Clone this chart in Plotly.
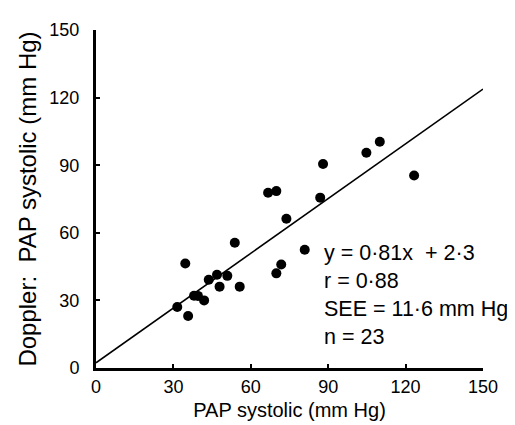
import plotly.graph_objects as go

# Catheter (x) vs Doppler (y) systolic PAP, mm Hg
pap_catheter = [66.7, 69.9, 88.0, 86.9, 104.8, 110.0, 123.3, 73.8, 53.8, 80.9,
                34.6, 71.8, 69.9, 43.7, 46.9, 50.9, 47.9, 55.7, 38.0, 39.5,
                41.9, 31.5, 35.7]
pap_doppler = [77.8, 78.5, 90.5, 75.6, 95.5, 100.4, 85.4, 66.2, 55.6, 52.5,
               46.4, 45.9, 42.0, 39.2, 41.4, 40.9, 36.1, 36.1, 32.1, 32.0,
               30.0, 27.1, 23.1]

slope = 0.81
intercept = 2.3
fit_x = [0, 150]
fit_y = [slope * v + intercept for v in fit_x]

tick_vals = [0, 30, 60, 90, 120, 150]
tick_text = ["0", "30", "60", "90", "120", "150"]

stats_lines = ["y = 0·81x  + 2·3", "r = 0·88", "SEE = 11·6 mm Hg", "n = 23"]

FONT = "Liberation Sans, Arial, sans-serif"

fig = go.Figure()
fig.add_trace(go.Scatter(x=fit_x, y=fit_y, mode="lines",
                         line=dict(color="black", width=1.6),
                         showlegend=False, hoverinfo="skip"))
fig.add_trace(go.Scatter(x=pap_catheter, y=pap_doppler, mode="markers",
                         marker=dict(color="black", size=10),
                         showlegend=False))

fig.add_annotation(x=0.585, y=0.217, xref="paper", yref="paper",
                   xanchor="left", yanchor="middle", align="left",
                   text="<br>".join(stats_lines), showarrow=False,
                   font=dict(family=FONT, size=21.5, color="black"))

axis_common = dict(range=[0, 150], tickvals=tick_vals, ticktext=tick_text,
                   showgrid=False, zeroline=False, showline=True,
                   linecolor="black", linewidth=3, ticks="inside",
                   ticklen=4, tickwidth=2, tickcolor="black",
                   tickfont=dict(family=FONT, size=18, color="black"))

fig.update_xaxes(**axis_common,
                 title=dict(text="PAP systolic (mm Hg)", standoff=8,
                            font=dict(family=FONT, size=20, color="black")))
fig.update_yaxes(**axis_common, ticklabelstandoff=10,
                 title=dict(text="Doppler:  PAP systolic (mm Hg)", standoff=6,
                            font=dict(family=FONT, size=24, color="black")))

fig.update_layout(width=515, height=425,
                  margin=dict(l=88, r=40, t=16, b=65),
                  plot_bgcolor="white", paper_bgcolor="white")

fig.write_html("out.html")
